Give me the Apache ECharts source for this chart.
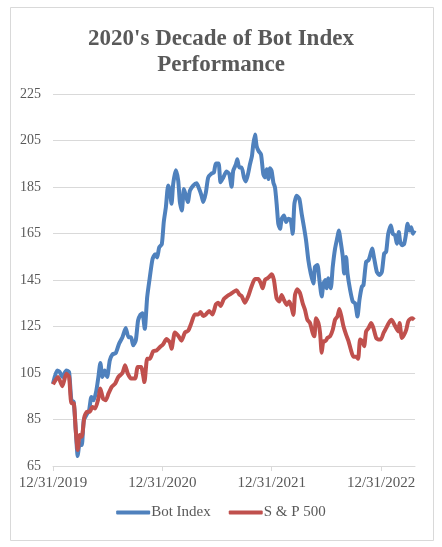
<!DOCTYPE html>
<html>
<head>
<meta charset="utf-8">
<script src="https://cdn.jsdelivr.net/npm/echarts@6/dist/echarts.min.js"></script>
<style>
  html, body { margin: 0; padding: 0; background: #fff; }
  #chart { width: 442px; height: 547px; }
</style>
</head>
<body>
<div id="chart"></div>
<script>
// x values are years since 12/31/2019
const xLabels = ['12/31/2019', '12/31/2020', '12/31/2021', '12/31/2022'];
const yTicks = [65, 85, 105, 125, 145, 165, 185, 205, 225];

const botIndex = [
  [0.000, 100.4], [0.037, 106.1], [0.061, 105.4], [0.085, 103.3], [0.122, 106.1], [0.147, 105.4],
  [0.168, 93.3], [0.189, 92.6], [0.208, 80.4], [0.226, 69.3], [0.244, 74.7], [0.263, 74.0],
  [0.281, 84.7], [0.305, 86.9], [0.330, 89.0], [0.351, 94.7], [0.372, 93.3], [0.397, 97.6],
  [0.415, 103.3], [0.433, 109.3], [0.452, 103.3], [0.473, 106.1], [0.495, 103.3], [0.519, 110.4],
  [0.543, 113.0], [0.574, 113.6], [0.604, 117.6], [0.635, 120.4], [0.665, 124.4], [0.690, 120.4],
  [0.714, 120.4], [0.733, 116.9], [0.757, 119.0], [0.778, 127.6], [0.800, 130.1], [0.818, 130.7],
  [0.839, 124.0], [0.861, 137.6], [0.885, 146.1], [0.910, 154.0], [0.934, 156.1], [0.952, 154.7],
  [0.971, 159.0], [0.995, 160.4], [1.013, 170.0], [1.032, 176.3], [1.053, 185.6], [1.068, 183.4],
  [1.084, 177.8], [1.099, 186.3], [1.123, 192.2], [1.145, 187.7], [1.160, 178.5], [1.178, 174.9],
  [1.197, 184.1], [1.215, 181.3], [1.233, 178.5], [1.252, 183.4], [1.282, 185.6], [1.313, 186.6],
  [1.337, 184.1], [1.358, 181.3], [1.374, 178.5], [1.398, 182.7], [1.419, 189.1], [1.450, 190.8],
  [1.471, 191.2], [1.489, 195.1], [1.514, 195.1], [1.532, 187.0], [1.557, 189.1], [1.587, 191.7],
  [1.612, 190.5], [1.633, 185.1], [1.648, 192.0], [1.673, 194.8], [1.685, 196.9], [1.703, 193.4],
  [1.725, 193.4], [1.746, 189.1], [1.764, 187.4], [1.786, 191.2], [1.801, 194.8], [1.819, 198.3],
  [1.831, 203.3], [1.847, 207.6], [1.862, 202.6], [1.880, 200.5], [1.902, 199.0], [1.923, 190.5],
  [1.938, 189.1], [1.954, 192.6], [1.969, 188.4], [1.984, 193.1], [1.999, 191.9], [2.015, 186.9],
  [2.030, 184.8], [2.045, 177.7], [2.060, 169.2], [2.076, 167.0], [2.091, 171.3], [2.112, 172.7],
  [2.131, 169.9], [2.152, 171.3], [2.173, 170.9], [2.192, 164.9], [2.207, 177.7], [2.228, 181.2],
  [2.253, 179.8], [2.274, 173.4], [2.295, 167.7], [2.314, 162.0], [2.335, 153.5], [2.357, 147.8],
  [2.381, 143.5], [2.396, 150.7], [2.418, 151.4], [2.436, 145.0], [2.457, 137.9], [2.473, 143.5],
  [2.491, 145.0], [2.503, 141.4], [2.518, 145.7], [2.540, 141.4], [2.558, 150.7], [2.579, 158.5],
  [2.601, 163.5], [2.613, 166.3], [2.631, 161.3], [2.650, 154.9], [2.662, 147.8], [2.680, 154.9],
  [2.693, 147.8], [2.717, 140.7], [2.741, 135.7], [2.763, 135.0], [2.784, 129.3], [2.802, 136.4],
  [2.824, 142.1], [2.839, 142.8], [2.863, 152.8], [2.885, 153.5], [2.900, 155.6], [2.918, 158.5],
  [2.937, 154.2], [2.961, 148.5], [2.985, 147.1], [3.007, 148.5], [3.028, 156.4], [3.046, 157.1],
  [3.065, 164.9], [3.089, 168.4], [3.107, 164.9], [3.128, 164.2], [3.144, 160.6], [3.162, 165.6],
  [3.175, 161.3], [3.193, 159.9], [3.211, 160.6], [3.226, 164.2], [3.242, 169.2], [3.260, 166.3],
  [3.275, 167.7], [3.291, 164.9], [3.306, 166.3]
];

const sp500 = [
  [0.000, 100.1], [0.046, 103.3], [0.085, 99.3], [0.122, 104.7], [0.147, 103.3], [0.168, 92.0],
  [0.189, 92.0], [0.208, 80.4], [0.226, 71.9], [0.244, 78.3], [0.263, 77.6], [0.287, 86.1],
  [0.311, 88.3], [0.336, 88.3], [0.360, 90.4], [0.385, 89.7], [0.415, 94.0], [0.433, 98.3],
  [0.458, 94.0], [0.482, 93.3], [0.507, 96.1], [0.537, 99.0], [0.568, 100.4], [0.598, 103.3],
  [0.635, 105.0], [0.659, 108.3], [0.684, 104.7], [0.714, 102.6], [0.751, 102.6], [0.775, 107.6],
  [0.806, 107.6], [0.836, 101.1], [0.861, 111.1], [0.885, 111.1], [0.916, 114.4], [0.946, 114.7],
  [0.977, 116.1], [1.007, 117.4], [1.038, 119.6], [1.068, 118.2], [1.084, 115.4], [1.114, 122.4],
  [1.145, 121.0], [1.175, 118.9], [1.206, 122.4], [1.236, 123.2], [1.267, 126.7], [1.297, 130.2],
  [1.328, 130.2], [1.349, 131.2], [1.374, 129.5], [1.398, 130.2], [1.428, 131.7], [1.459, 130.2],
  [1.489, 134.5], [1.511, 135.2], [1.532, 133.8], [1.563, 136.9], [1.593, 138.1], [1.618, 138.8],
  [1.648, 139.8], [1.679, 140.6], [1.703, 138.8], [1.725, 138.1], [1.755, 135.2], [1.786, 138.1],
  [1.816, 142.3], [1.847, 145.4], [1.877, 145.4], [1.899, 143.7], [1.917, 141.4], [1.938, 145.0],
  [1.960, 145.7], [1.978, 146.4], [1.999, 147.5], [2.020, 145.0], [2.045, 137.1], [2.069, 135.7],
  [2.091, 138.6], [2.112, 136.4], [2.137, 134.3], [2.161, 135.7], [2.183, 132.9], [2.198, 130.0],
  [2.213, 138.6], [2.234, 141.0], [2.259, 139.3], [2.283, 135.0], [2.304, 132.2], [2.326, 127.9],
  [2.350, 126.5], [2.375, 122.2], [2.390, 120.8], [2.405, 128.6], [2.427, 126.5], [2.442, 122.2],
  [2.457, 113.7], [2.473, 118.7], [2.491, 118.7], [2.509, 120.1], [2.534, 120.8], [2.558, 123.6],
  [2.579, 127.9], [2.601, 129.3], [2.619, 132.5], [2.637, 129.3], [2.656, 125.1], [2.680, 121.5],
  [2.702, 118.7], [2.723, 115.1], [2.747, 112.0], [2.772, 112.0], [2.790, 111.1], [2.808, 119.4],
  [2.827, 118.7], [2.845, 116.5], [2.863, 122.9], [2.885, 124.3], [2.909, 126.5], [2.930, 124.3],
  [2.955, 120.1], [2.976, 119.4], [2.998, 119.4], [3.022, 122.2], [3.046, 124.3], [3.070, 126.5],
  [3.095, 127.9], [3.114, 126.5], [3.138, 124.3], [3.156, 122.9], [3.169, 126.5], [3.190, 120.1],
  [3.211, 121.5], [3.230, 123.6], [3.248, 127.2], [3.266, 128.2], [3.285, 128.6], [3.303, 127.9]
];

const seriesNames = ['Bot Index', 'S & P 500'];
const seriesColors = ['#4f81bd', '#c0504d'];

const serif = '"Liberation Serif", "DejaVu Serif", serif';
const textColor = '#595959';

const chart = echarts.init(document.getElementById('chart'), null, { renderer: 'canvas' });

chart.setOption({
  animation: false,
  backgroundColor: '#fff',
  graphic: [
    {
      type: 'rect',
      shape: { x: 10.5, y: 7.5, width: 423, height: 533 },
      style: { fill: 'none', stroke: '#d9d9d9', lineWidth: 1 },
      z: 0
    }
  ],
  title: {
    text: "2020's Decade of Bot Index\nPerformance",
    left: 'center',
    top: 21,
    textStyle: {
      fontFamily: serif,
      fontSize: 23,
      fontWeight: 'bold',
      color: textColor,
      lineHeight: 26
    }
  },
  legend: {
    bottom: 22,
    left: 'center',
    itemWidth: 34,
    itemHeight: 4,
    itemGap: 18,
    icon: 'roundRect',
    textStyle: { fontFamily: serif, fontSize: 15, color: textColor, padding: [0, 0, 0, -4] },
    data: seriesNames
  },
  grid: { left: 53, right: 27, top: 94, bottom: 81, containLabel: false },
  xAxis: {
    type: 'value',
    min: 0,
    max: 3.31,
    interval: 1,
    splitLine: { show: false },
    axisLine: { lineStyle: { color: '#d9d9d9' } },
    axisTick: { show: true, length: 5, lineStyle: { color: '#d9d9d9' } },
    axisLabel: {
      fontFamily: serif,
      fontSize: 15,
      color: textColor,
      margin: 10,
      showMaxLabel: false,
      formatter: v => xLabels[Math.round(v)] || ''
    }
  },
  yAxis: {
    type: 'value',
    min: yTicks[0],
    max: yTicks[yTicks.length - 1],
    interval: 20,
    axisLine: { show: false },
    axisTick: { show: false },
    splitLine: { lineStyle: { color: '#d9d9d9', width: 1 } },
    axisLabel: { fontFamily: serif, fontSize: 14, color: textColor, margin: 12 }
  },
  series: [
    {
      name: seriesNames[0],
      type: 'line',
      data: botIndex,
      showSymbol: false,
      smooth: 0.2,
      lineStyle: { width: 4, color: seriesColors[0] },
      itemStyle: { color: seriesColors[0] },
      z: 2
    },
    {
      name: seriesNames[1],
      type: 'line',
      data: sp500,
      showSymbol: false,
      smooth: 0.2,
      lineStyle: { width: 4, color: seriesColors[1] },
      itemStyle: { color: seriesColors[1] },
      z: 3
    }
  ]
});
</script>
</body>
</html>
